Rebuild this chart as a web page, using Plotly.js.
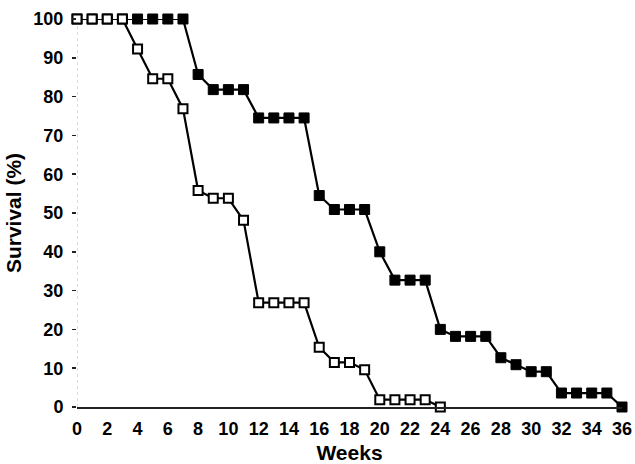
<!DOCTYPE html>
<html><head><meta charset="utf-8">
<script src="https://cdn.plot.ly/plotly-3.0.1.min.js"></script>
<style>html,body{margin:0;padding:0;background:#fff}</style>
</head><body>
<div id="chart" style="width:635px;height:464px"></div>
<script>
var weeksFilled = [0,1,2,3,4,5,6,7,8,9,10,11,12,13,14,15,16,17,18,19,20,21,22,23,24,25,26,27,28,29,30,31,32,33,34,35,36];
var survivalFilled = [100,100,100,100,100,100,100,100,85.7,81.8,81.8,81.8,74.5,74.5,74.5,74.5,54.5,50.9,50.9,50.9,40,32.7,32.7,32.7,20,18.2,18.2,18.2,12.7,10.9,9.1,9.1,3.6,3.6,3.6,3.6,0];
var weeksOpen = [0,1,2,3,4,5,6,7,8,9,10,11,12,13,14,15,16,17,18,19,20,21,22,23,24];
var survivalOpen = [100,100,100,100,92.3,84.6,84.6,76.9,55.8,53.8,53.8,48.1,26.9,26.9,26.9,26.9,15.4,11.5,11.5,9.6,1.9,1.9,1.9,1.9,0];
var xTicks = [0,2,4,6,8,10,12,14,16,18,20,22,24,26,28,30,32,34,36];
var yTicks = [0,10,20,30,40,50,60,70,80,90,100];

var traces = [
  {x: weeksFilled, y: survivalFilled, type: 'scatter', mode: 'lines+markers', cliponaxis: false,
   line: {color: '#000', width: 2.2},
   marker: {symbol: 'square', size: 10, color: '#000', line: {color: '#000', width: 1}}},
  {x: weeksOpen, y: survivalOpen, type: 'scatter', mode: 'lines+markers', cliponaxis: false,
   line: {color: '#000', width: 2.2},
   marker: {symbol: 'square', size: 9, color: '#fff', line: {color: '#000', width: 2}}}
];
var fam = 'Arial, "Liberation Sans", sans-serif';
var layout = {
  width: 635, height: 464, showlegend: false,
  paper_bgcolor: '#fff', plot_bgcolor: '#fff',
  margin: {l: 77, r: 13, t: 19, b: 57},
  font: {family: fam, size: 18, color: '#000'},
  xaxis: {range: [0, 36], tickvals: xTicks, ticktext: xTicks.map(String), showgrid: false, zeroline: false,
    showline: true, linecolor: '#222', linewidth: 1.5, ticks: 'outside', ticklen: 5, tickwidth: 1, tickcolor: 'rgba(0,0,0,0)',
    tickfont: {family: fam, size: 18, color: '#000', weight: 'bold'},
    title: {text: '<b>Weeks</b>', font: {family: fam, size: 21, color: '#000'}, standoff: 7}},
  yaxis: {range: [0, 100], tickvals: yTicks, ticktext: yTicks.map(function(v){return v + '\u00a0';}), showgrid: false, zeroline: false,
    showline: false, ticks: 'outside', ticklen: 4, tickwidth: 1.5, tickcolor: '#222',
    tickfont: {family: fam, size: 18, color: '#000', weight: 'bold'},
    title: {text: '<b>Survival (%)</b>', font: {family: fam, size: 21, color: '#000'}, standoff: 6}},
  shapes: [{type: 'line', xref: 'x', yref: 'y', x0: 0, x1: 0, y0: 0, y1: 100, line: {color: '#bbb', width: 1, dash: 'dot'}, layer: 'below'}]
};
Plotly.newPlot('chart', traces, layout, {displayModeBar: false, staticPlot: true});
</script>
</body></html>
